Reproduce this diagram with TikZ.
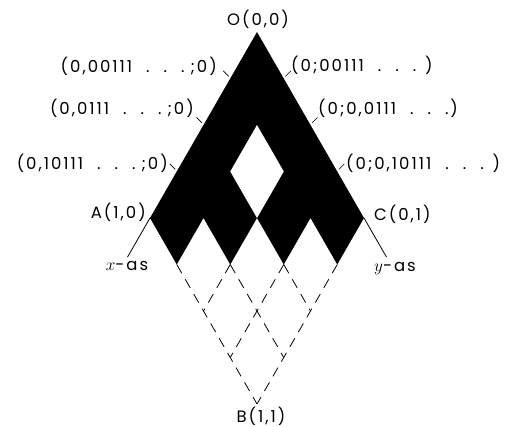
\documentclass[tikz,border=0pt]{standalone}
\usepackage{fontspec}
\setmainfont{Poppins}[LetterSpace=12]
\usetikzlibrary{calc}
\newcommand\dotsgap{\kern14pt.\kern14pt.\kern14pt.\kern6pt}
\newcommand\bigvar[1]{{\fontsize{19}{20}\selectfont$#1$}}
\begin{document}
\begin{tikzpicture}[x=1pt,y=-1pt,
  lbl/.style={font=\fontsize{16.5}{19}\selectfont, inner sep=0pt},
  tickline/.style={line width=0.7pt},
  gridline/.style={line width=0.8pt, dash pattern=on 10pt off 7pt},
  axisline/.style={line width=0.8pt}]
\useasboundingbox (0,0) rectangle (507,427);
\foreach \i in {0,...,4}{\foreach \j in {0,...,4}{
  \coordinate (p\i\j) at ({257+26.75*(\j-\i)},{32+46.5*(\i+\j)});}}
% black region
\fill[black] (p00) -- (p40) -- (p41) -- (p31) -- (p32) -- (p22) -- (p23)
  -- (p13) -- (p14) -- (p04) -- cycle;
\fill[white] (p11) -- (p21) -- (p22) -- (p12) -- cycle;
% dashed grid
\draw[gridline] (p41) -- (p44);
\draw[gridline] (p32) -- (p34);
\draw[gridline] (p23) -- (p24);
\draw[gridline] (p32) -- (p42);
\draw[gridline] (p23) -- (p43);
\draw[gridline] (p14) -- (p44);
% axes
\coordinate (xe) at ($(p40)!-0.21!(p00)$);
\coordinate (ye) at ($(p04)!-0.21!(p00)$);
\draw[axisline] (p40) -- (xe);
\draw[axisline] (p04) -- (ye);
% ticks
\foreach \k in {10,20,30}{
  \coordinate (tl\k a) at ($(p\k)+(-1.5,-2)$);
  \coordinate (tl\k b) at ($(p\k)+(-7,-7.5)$);
  \draw[tickline] (tl\k a) -- (tl\k b);}
\foreach \k in {01,02,03}{
  \coordinate (tr\k a) at ($(p\k)+(1.5,-2)$);
  \coordinate (tr\k b) at ($(p\k)+(7,-7.5)$);
  \draw[tickline] (tr\k a) -- (tr\k b);}
% labels
\node[lbl] (O) at (258,19) {O(0,0)};
\node[lbl, anchor=east] (A) at (146,212) {A(1,0)};
\node[lbl, anchor=west] (C) at (374,214) {C(0,1)};
\node[lbl] (B) at (261,416) {B(1,1)};
\node[lbl] (xas) at (127,266) {\bigvar{x}-as};
\node[lbl] (yas) at (395,269) {\bigvar{y}-as};
\node[lbl, anchor=east] (l1) at (217,66) {(0,00111\dotsgap;0)};
\node[lbl, anchor=east] (l2) at (194,108) {(0,0111\dotsgap;0)};
\node[lbl, anchor=east] (l3) at (168,163) {(0,10111\dotsgap;0)};
\node[lbl, anchor=west] (r1) at (291,65) {(0;00111\dotsgap\kern3pt)};
\node[lbl, anchor=west] (r2) at (318,108) {(0;0,0111\kern14pt.\kern14pt.\kern14pt.)};
\node[lbl, anchor=west] (r3) at (346,163) {(0;0,10111\dotsgap\kern3pt)};
\end{tikzpicture}
\end{document}
